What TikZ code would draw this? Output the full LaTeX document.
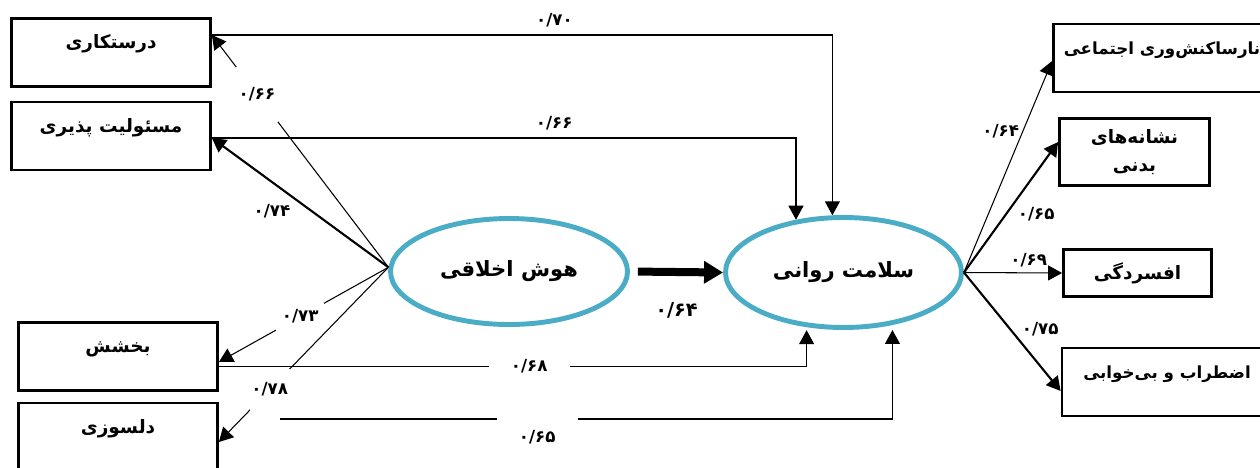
\documentclass[tikz,border=0pt]{standalone}
\usepackage{fontspec}
\usetikzlibrary{arrows.meta,shapes.geometric}
\newfontfamily\farsi[Script=Arabic]{DejaVu Sans}
\TeXXeTstate=1
\newcommand{\rtl}[1]{\beginR #1\endR}
\definecolor{ovalblue}{RGB}{75,172,198}

\begin{document}
\begin{tikzpicture}[x=0.02cm,y=-0.02cm]
\tikzstyle{every node}+=[inner sep=0pt]
\tikzstyle{box}=[draw, line width=1.6pt, minimum width=3.98cm, text height=0.6cm, text depth=0.76cm, font=\farsi\bfseries\fontsize{10.5}{14}\selectfont]
\tikzstyle{flatbox}=[draw, line width=1.6pt, align=center, font=\farsi\bfseries\fontsize{10.5}{16}\selectfont]
\tikzstyle{oval}=[ellipse, draw=ovalblue, line width=2.8pt, font=\farsi\bfseries\fontsize{12}{16}\selectfont]
\tikzstyle{link}=[draw, line width=0.6pt, -{Triangle[length=0.28cm,width=0.3cm]}]
\tikzstyle{boldlink}=[link, line width=1.2pt]
\tikzstyle{num}=[font=\farsi\bfseries\fontsize{9.5}{10}\selectfont]
\tikzstyle{gap}=[num, fill=white]
\useasboundingbox (0,0) rectangle (1260,467);
\clip (0,0) rectangle (1260,467);

% left side
\node[box] (dorost) at (111,52.5) {\rtl{درستکاری}};
\node[box] (masool) at (111,136) {\rtl{مسئولیت پذیری}};
\node[box] (bakhsh) at (118,356.5) {\rtl{بخشش}};
\node[box] (delsoz) at (118,437) {\rtl{دلسوزی}};

% latent variables
\node[oval, minimum width=4.74cm, minimum height=2.12cm] (hoosh) at (509,271.5) {\rtl{هوش اخلاقی}};
\node[oval, minimum width=4.72cm, minimum height=2.2cm] (ravan) at (843.5,272.5) {\rtl{سلامت روانی}};

% right side
\node[box, minimum width=4.34cm, font=\farsi\bfseries\fontsize{9.5}{12}\selectfont] (narsa) at (1162,58) {\rtl{نارساکنش‌وری اجتماعی}};
\node[flatbox, minimum width=3.0cm, minimum height=1.34cm] (neshan) at (1134.5,152) {\rtl{نشانه‌های}\\\rtl{بدنی}};
\node[flatbox, minimum width=2.96cm, minimum height=0.94cm] (afsor) at (1137.5,273) {\rtl{افسردگی}};
\node[box, minimum width=4.2cm, font=\farsi\bfseries\fontsize{9.5}{12}\selectfont] (ezter) at (1167,382) {\rtl{اضطراب و بی‌خوابی}};

% loadings of moral intelligence
\draw[link] (hoosh.178) -- node[gap, pos=0.745, minimum width=0.84cm, minimum height=1.1cm] (c1) {۰/۶۶} ([yshift=0.35cm]dorost.east);
\draw[boldlink] (hoosh.178) -- node[num, pos=0.66, below=12pt] (c2) {۰/۷۴} ([yshift=-0.04cm]masool.east);
\draw[link] (hoosh.178) -- node[gap, pos=0.52, minimum width=0.96cm, minimum height=0.56cm] (c3) {۰/۷۳} ([yshift=-0.11cm]bakhsh.east);
\draw[link] (hoosh.178) -- node[gap, pos=0.70, minimum width=0.8cm, minimum height=0.84cm] (c4) {۰/۷۸} ([yshift=-0.1cm]delsoz.east);

% paths to mental health
\draw[link] ([yshift=0.35cm]dorost.east) -| node[num, pos=0.276, above=4pt] (c5) {۰/۷۰} (ravan.101);
\draw[link] ([yshift=-0.04cm]masool.east) -| node[num, pos=0.293, above=4pt] (c6) {۰/۶۶} (ravan.132);
\draw[link, shorten >=0.06cm] ([yshift=-0.2cm]bakhsh.east) -| node[gap, pos=0.264, minimum width=1.62cm, minimum height=0.4cm] (c7) {۰/۶۸} (ravan.236);
\coordinate (delsozout) at (280,419);
\draw[link, shorten >=0.1cm] (delsozout) -| node[gap, pos=0.21, anchor=north, yshift=2pt, inner ysep=8pt, minimum width=1.62cm] (c8) {۰/۶۵} (ravan.313);

% main path
\draw[line width=0.16cm, -{Triangle[length=0.38cm,width=0.43cm]}, shorten <=0.16cm] (hoosh.east) -- node[num, below=15pt, font=\farsi\bfseries\fontsize{11}{12}\selectfont] (c9) {۰/۶۴} (ravan.west);

% loadings of mental health
\draw[link] (ravan.east) -- node[num, pos=0.67, left=2pt] (c10) {۰/۶۴} ([yshift=-0.06cm]narsa.west);
\draw[boldlink] (ravan.east) -- node[num, pos=0.45, right=6pt] (c11) {۰/۶۵} ([yshift=0.2cm]neshan.west);
\draw[link] (ravan.east) -- node[num, pos=0.66, above=3pt] (c12) {۰/۶۹} (afsor.west);
\draw[boldlink] (ravan.east) -- node[num, pos=0.48, right=6pt] (c13) {۰/۷۵} ([yshift=-0.18cm]ezter.west);
\end{tikzpicture}
\end{document}
